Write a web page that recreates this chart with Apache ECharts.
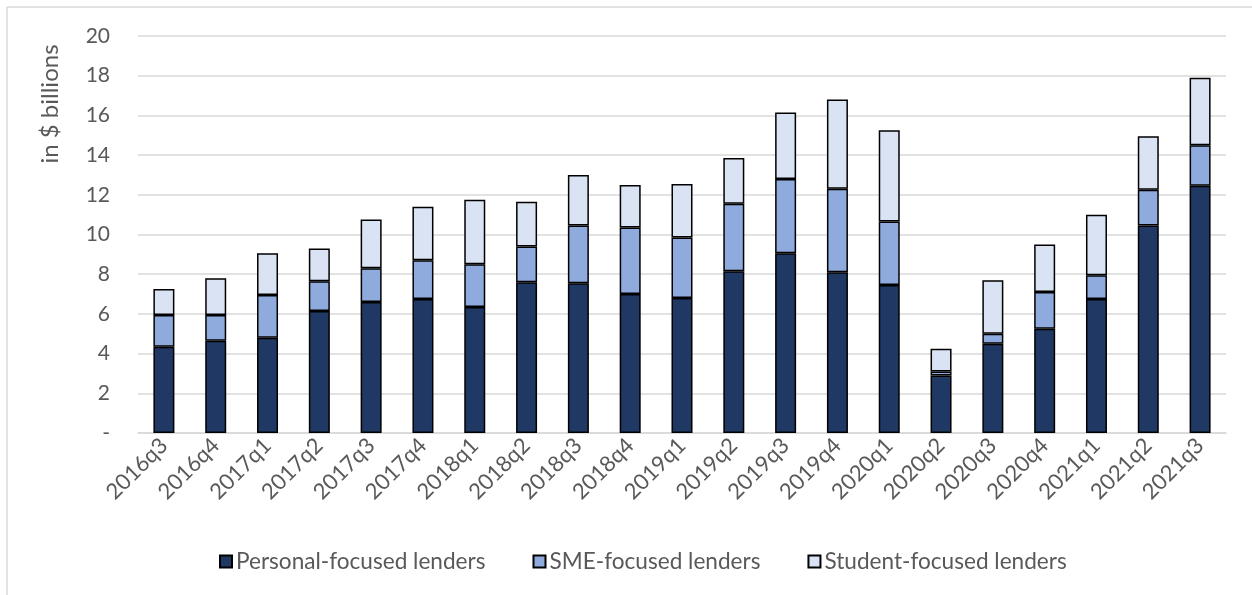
<!DOCTYPE html>
<html>
<head>
<meta charset="utf-8">
<script src="https://cdn.jsdelivr.net/npm/echarts@6/dist/echarts.min.js"></script>
<style>
  html, body { margin: 0; padding: 0; background: #fff; }
  #chart { width: 1252px; height: 595px; }
</style>
</head>
<body>
<div id="chart"></div>
<script>
// Quarterly lending volume by lender type, in $ billions
const quarters = ['2016q3','2016q4','2017q1','2017q2','2017q3','2017q4','2018q1','2018q2','2018q3','2018q4',
  '2019q1','2019q2','2019q3','2019q4','2020q1','2020q2','2020q3','2020q4','2021q1','2021q2','2021q3'];

const personalLenders = [4.35, 4.65, 4.80, 6.15, 6.60, 6.75, 6.35, 7.60, 7.55, 7.00,
  6.80, 8.15, 9.05, 8.10, 7.45, 2.90, 4.50, 5.25, 6.75, 10.45, 12.45];

const smeLenders = [1.60, 1.30, 2.15, 1.50, 1.70, 1.95, 2.15, 1.80, 2.90, 3.35,
  3.05, 3.40, 3.75, 4.20, 3.20, 0.20, 0.50, 1.85, 1.20, 1.80, 2.05];

const studentLenders = [1.30, 1.85, 2.10, 1.65, 2.45, 2.70, 3.25, 2.25, 2.55, 2.15,
  2.70, 2.30, 3.35, 4.50, 4.60, 1.15, 2.70, 2.40, 3.05, 2.70, 3.40];

const seriesNames = ['Personal-focused lenders', 'SME-focused lenders', 'Student-focused lenders'];
const yTicks = { min: 0, max: 20, interval: 2 };

const FONT = 'Lato, "Open Sans", sans-serif';
const TEXT = '#595959';
const colors = ['#203864', '#8faadc', '#dae3f3'];

function barSeries(name, data, color) {
  return {
    name: name,
    type: 'bar',
    stack: 'total',
    data: data,
    barWidth: 21,
    itemStyle: { color: color, borderColor: '#000', borderWidth: 1.5 },
    emphasis: { disabled: true }
  };
}

const chart = echarts.init(document.getElementById('chart'), null, { renderer: 'canvas' });
chart.setOption({
  animation: false,
  backgroundColor: '#fff',
  textStyle: { fontFamily: FONT },
  grid: { left: 138, right: 26, top: 36, bottom: 162, containLabel: false },
  xAxis: {
    type: 'category',
    data: quarters,
    axisLine: { show: true, lineStyle: { color: '#d9d9d9', width: 1.5 } },
    axisTick: { show: false },
    axisLabel: {
      rotate: 45, color: TEXT, fontSize: 22, fontFamily: FONT, margin: 9, interval: 0
    }
  },
  yAxis: {
    type: 'value',
    min: yTicks.min, max: yTicks.max, interval: yTicks.interval,
    axisLine: { show: false },
    axisTick: { show: false },
    splitLine: { lineStyle: { color: '#d9d9d9', width: 1.5 } },
    axisLabel: {
      color: TEXT, fontSize: 21, fontFamily: FONT, margin: 28,
      formatter: v => (v === 0 ? '-' : String(v))
    }
  },
  legend: {
    data: seriesNames,
    left: 214, top: 545,
    itemWidth: 12, itemHeight: 12, itemGap: 47,
    icon: 'rect',
    textStyle: { color: TEXT, fontSize: 22.6, fontFamily: FONT, padding: [0, 0, 0, -1] }
  },
  graphic: [
    { type: 'line', shape: { x1: 7, y1: 7, x2: 1252, y2: 7 }, style: { stroke: '#d9d9d9', lineWidth: 1.5 } },
    { type: 'line', shape: { x1: 7, y1: 7, x2: 7, y2: 595 }, style: { stroke: '#d9d9d9', lineWidth: 1.5 } },
    {
      type: 'text', x: 50, y: 104, rotation: Math.PI / 2,
      style: { text: 'in $ billions', fill: TEXT, font: '24px ' + FONT, align: 'center', verticalAlign: 'middle' }
    }
  ],
  series: [
    barSeries(seriesNames[0], personalLenders, colors[0]),
    barSeries(seriesNames[1], smeLenders, colors[1]),
    barSeries(seriesNames[2], studentLenders, colors[2])
  ]
});
</script>
</body>
</html>
